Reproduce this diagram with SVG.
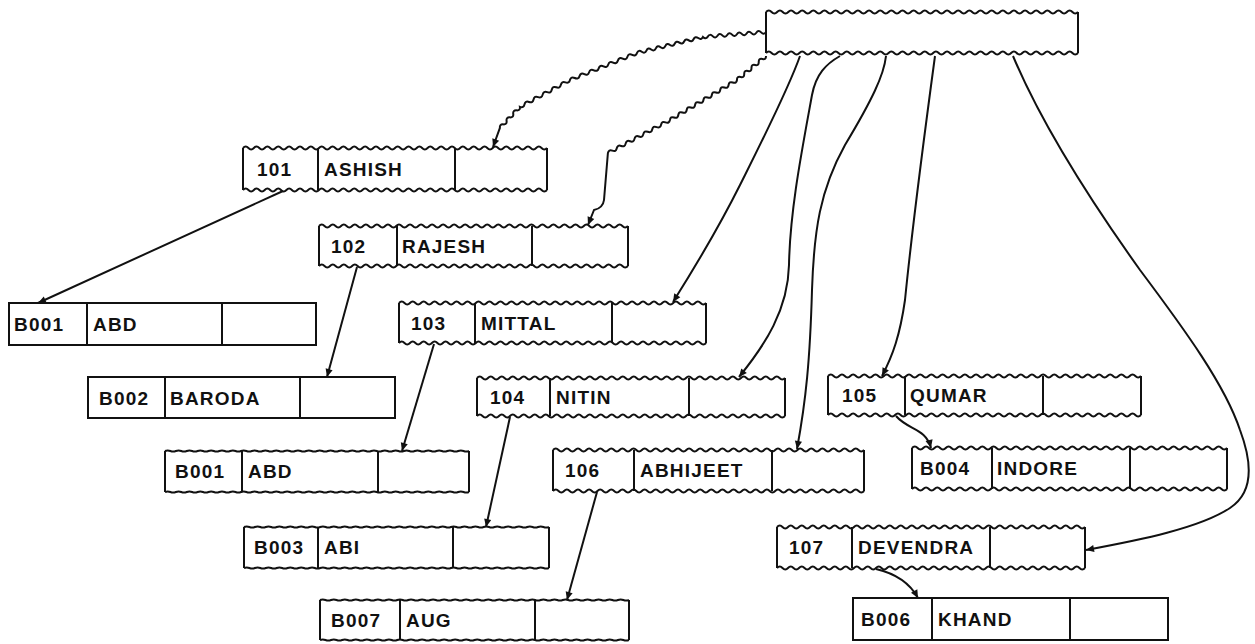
<svg xmlns="http://www.w3.org/2000/svg" xmlns:xlink="http://www.w3.org/1999/xlink" width="1255" height="644" viewBox="0 0 1255 644">
<style>
.ln{fill:none;stroke:#111;stroke-width:2}
.bx{fill:none;stroke:#111;stroke-width:2}
text{font-family:"Liberation Sans",Arial,sans-serif;font-size:19px;font-weight:bold;letter-spacing:1.2px;fill:#111}
.cn{fill:none;stroke:#111;stroke-width:2;marker-end:url(#ah)}
</style>
<defs>
<marker id="ah" viewBox="0 0 10 10" refX="10" refY="5" markerWidth="10" markerHeight="8" markerUnits="userSpaceOnUse" orient="auto"><path d="M0,0.5L10,5L0,9.5z" fill="#111"/></marker>
<path id="wv" class="ln" d="M0,0q2.75,-3 5.5,0t5.5,0t5.5,0t5.5,0t5.5,0t5.5,0t5.5,0t5.5,0t5.5,0t5.5,0t5.5,0t5.5,0t5.5,0t5.5,0t5.5,0t5.5,0t5.5,0t5.5,0t5.5,0t5.5,0t5.5,0t5.5,0t5.5,0t5.5,0t5.5,0t5.5,0t5.5,0t5.5,0t5.5,0t5.5,0t5.5,0t5.5,0t5.5,0t5.5,0t5.5,0t5.5,0t5.5,0t5.5,0t5.5,0t5.5,0t5.5,0t5.5,0t5.5,0t5.5,0t5.5,0t5.5,0t5.5,0t5.5,0t5.5,0t5.5,0t5.5,0t5.5,0t5.5,0t5.5,0t5.5,0t5.5,0"/>
<path id="ws" class="ln" d="M0,0q2.75,-1.2 5.5,0t5.5,0t5.5,0t5.5,0t5.5,0t5.5,0t5.5,0t5.5,0t5.5,0t5.5,0t5.5,0t5.5,0t5.5,0t5.5,0t5.5,0t5.5,0t5.5,0t5.5,0t5.5,0t5.5,0t5.5,0t5.5,0t5.5,0t5.5,0t5.5,0t5.5,0t5.5,0t5.5,0t5.5,0t5.5,0t5.5,0t5.5,0t5.5,0t5.5,0t5.5,0t5.5,0t5.5,0t5.5,0t5.5,0t5.5,0t5.5,0t5.5,0t5.5,0t5.5,0t5.5,0t5.5,0t5.5,0t5.5,0t5.5,0t5.5,0t5.5,0t5.5,0t5.5,0t5.5,0t5.5,0t5.5,0"/>
</defs>
<rect width="1255" height="644" fill="#fff"/>

<g id="root">
<use href="#wv" transform="translate(766,12) scale(1.013,1)"/>
<use href="#wv" transform="translate(766,53) scale(1.013,1)"/>
<path class="bx" d="M766,12V53M1078,12V53"/>
</g>

<g id="n101">
<use href="#wv" transform="translate(243,148) scale(0.987,1)"/>
<use href="#wv" transform="translate(243,190) scale(0.987,1)"/>
<path class="bx" d="M243,148V190M318,148V190M455,148V190M547,148V190"/>
<text x="257" y="176">101</text><text x="324" y="176">ASHISH</text>
</g>

<g id="n102">
<use href="#wv" transform="translate(319,226) scale(1.003,1)"/>
<use href="#wv" transform="translate(319,266) scale(1.003,1)"/>
<path class="bx" d="M319,226V266M397,226V266M532,226V266M628,226V266"/>
<text x="331" y="253">102</text><text x="402" y="253">RAJESH</text>
</g>

<g id="n103">
<use href="#wv" transform="translate(399,303) scale(0.997,1)"/>
<use href="#wv" transform="translate(399,343) scale(0.997,1)"/>
<path class="bx" d="M399,303V343M475,303V343M612,303V343M706,303V343"/>
<text x="411" y="330">103</text><text x="481" y="330">MITTAL</text>
</g>

<g id="n104">
<use href="#wv" transform="translate(477,378) scale(1,1)"/>
<use href="#wv" transform="translate(477,416) scale(1,1)"/>
<path class="bx" d="M477,378V416M550,378V416M689,378V416M785,378V416"/>
<text x="490" y="404">104</text><text x="556" y="404">NITIN</text>
</g>

<g id="n105">
<use href="#wv" transform="translate(828,376) scale(1.016,1)"/>
<use href="#wv" transform="translate(828,415) scale(1.016,1)"/>
<path class="bx" d="M828,376V415M905,376V415M1043,376V415M1141,376V415"/>
<text x="842" y="402">105</text><text x="910" y="402">QUMAR</text>
</g>

<g id="n106">
<use href="#wv" transform="translate(553,450) scale(1.010,1)"/>
<use href="#wv" transform="translate(553,491) scale(1.010,1)"/>
<path class="bx" d="M553,450V491M634,450V491M772,450V491M864,450V491"/>
<text x="565" y="477">106</text><text x="640" y="477">ABHIJEET</text>
</g>

<g id="n107">
<use href="#wv" transform="translate(777,527) scale(1,1)"/>
<use href="#wv" transform="translate(777,568) scale(1,1)"/>
<path class="bx" d="M777,527V568M852,527V568M990,527V568M1085,527V568"/>
<text x="789" y="554">107</text><text x="858" y="554">DEVENDRA</text>
</g>

<g id="b001a">
<rect class="bx" x="9" y="303" width="307" height="42"/>
<path class="bx" d="M87,303V345M222,303V345"/>
<text x="14" y="331">B001</text><text x="93" y="331">ABD</text>
</g>

<g id="b002">
<rect class="bx" x="88" y="377" width="307" height="41"/>
<path class="bx" d="M165,377V418M300,377V418"/>
<text x="99" y="405">B002</text><text x="170" y="405">BARODA</text>
</g>

<g id="b001b">
<use href="#ws" transform="translate(165,451) scale(0.987,1)"/>
<use href="#ws" transform="translate(165,492) scale(0.987,1)"/>
<path class="bx" d="M165,451V492M242,451V492M378,451V492M469,451V492"/>
<text x="175" y="478">B001</text><text x="248" y="478">ABD</text>
</g>

<g id="b003">
<use href="#ws" transform="translate(244,527) scale(0.990,1)"/>
<use href="#ws" transform="translate(244,568) scale(0.990,1)"/>
<path class="bx" d="M244,527V568M318,527V568M453,527V568M549,527V568"/>
<text x="254" y="554">B003</text><text x="324" y="554">ABI</text>
</g>

<g id="b004">
<use href="#wv" transform="translate(912,448) scale(1.023,1)"/>
<use href="#wv" transform="translate(912,489) scale(1.023,1)"/>
<path class="bx" d="M912,448V489M992,448V489M1130,448V489M1227,448V489"/>
<text x="920" y="475">B004</text><text x="997" y="475">INDORE</text>
</g>

<g id="b007">
<use href="#ws" transform="translate(320,600) scale(1.003,1)"/>
<use href="#ws" transform="translate(320,640) scale(1.003,1)"/>
<path class="bx" d="M320,600V640M400,600V640M535,600V640M629,600V640"/>
<text x="331" y="627">B007</text><text x="406" y="627">AUG</text>
</g>

<g id="b006">
<rect class="bx" x="853" y="598" width="315" height="42"/>
<path class="bx" d="M932,598V640M1070,598V640"/>
<text x="861" y="626">B006</text><text x="938" y="626">KHAND</text>
</g>

<g id="connectors">
<path class="cn" d="M766,32q-2.19,3.18 -4.85,0.38t-4.85,0.38t-4.85,0.38t-4.85,0.38t-4.85,0.38t-4.85,0.38t-4.85,0.38t-4.85,0.38t-4.85,0.38t-4.85,0.38t-4.85,0.38t-4.85,0.38t-4.85,0.38q-1.65,3.49 -4.71,1.14t-4.71,1.14t-4.71,1.14t-4.71,1.14t-4.71,1.14t-4.71,1.14t-4.71,1.14t-4.71,1.14t-4.71,1.14t-4.71,1.14t-4.71,1.14t-4.71,1.14t-4.71,1.14t-4.71,1.14q-1.27,3.75 -4.79,1.93t-4.79,1.93t-4.79,1.93t-4.79,1.93t-4.79,1.93t-4.79,1.93t-4.79,1.93t-4.79,1.93t-4.79,1.93t-4.79,1.93t-4.79,1.93t-4.79,1.93t-4.79,1.93t-4.79,1.93q-0.84,3.87 -4.55,2.45t-4.55,2.45t-4.55,2.45t-4.55,2.45t-4.55,2.45t-4.55,2.45t-4.55,2.45t-4.55,2.45t-4.55,2.45t-4.55,2.45t-4.55,2.45q0.5,3.82 -3.33,3.5t-3.33,3.5t-3.33,3.5t-3.33,3.5t-3.33,3.5t-3.33,3.5L493,147"/>
<path class="cn" d="M766,56q0.10,3.81 -3.63,3t-3.63,3t-3.63,3t-3.63,3t-3.63,3t-3.63,3t-3.63,3t-3.63,3q-0.55,3.83 -4.19,2.5t-4.19,2.5t-4.19,2.5t-4.19,2.5t-4.19,2.5t-4.19,2.5t-4.19,2.5t-4.19,2.5t-4.19,2.5t-4.19,2.5t-4.19,2.5t-4.19,2.5t-4.19,2.5t-4.19,2.5t-4.19,2.5t-4.19,2.5q-0.80,3.83 -4.43,2.36t-4.43,2.36t-4.43,2.36t-4.43,2.36t-4.43,2.36t-4.43,2.36t-4.43,2.36t-4.43,2.36t-4.43,2.36t-4.43,2.36t-4.43,2.36t-4.43,2.36t-4.43,2.36t-4.43,2.36L604,200Q603,208 594,210L588,225"/>
<path class="cn" d="M800,56C788,90 760,145 740,185S690,275 673,302"/>
<path class="cn" d="M840,56C826,64 816,74 812,95C802,150 790,210 789,265C788,310 765,345 739,377"/>
<path class="cn" d="M886,56C884,75 872,100 845,145C820,190 814,230 812,290C810,360 806,400 797,449"/>
<path class="cn" d="M935,56C925,130 912,230 905,300C900,335 893,355 882,376"/>
<path class="cn" d="M1013,56C1040,120 1090,200 1140,270C1185,330 1225,385 1240,430C1255,470 1250,495 1230,508C1200,528 1140,540 1086,550"/>
<path class="cn" d="M283,191L38,303"/>
<path class="cn" d="M357,267L327,377"/>
<path class="cn" d="M434,344L402,451"/>
<path class="cn" d="M510,417L486,527"/>
<path class="cn" d="M597,492L567,600"/>
<path class="cn" d="M896,416C908,430 926,428 931,448"/>
<path class="cn" d="M876,569Q906,576 918,598"/>
</g>
</svg>
